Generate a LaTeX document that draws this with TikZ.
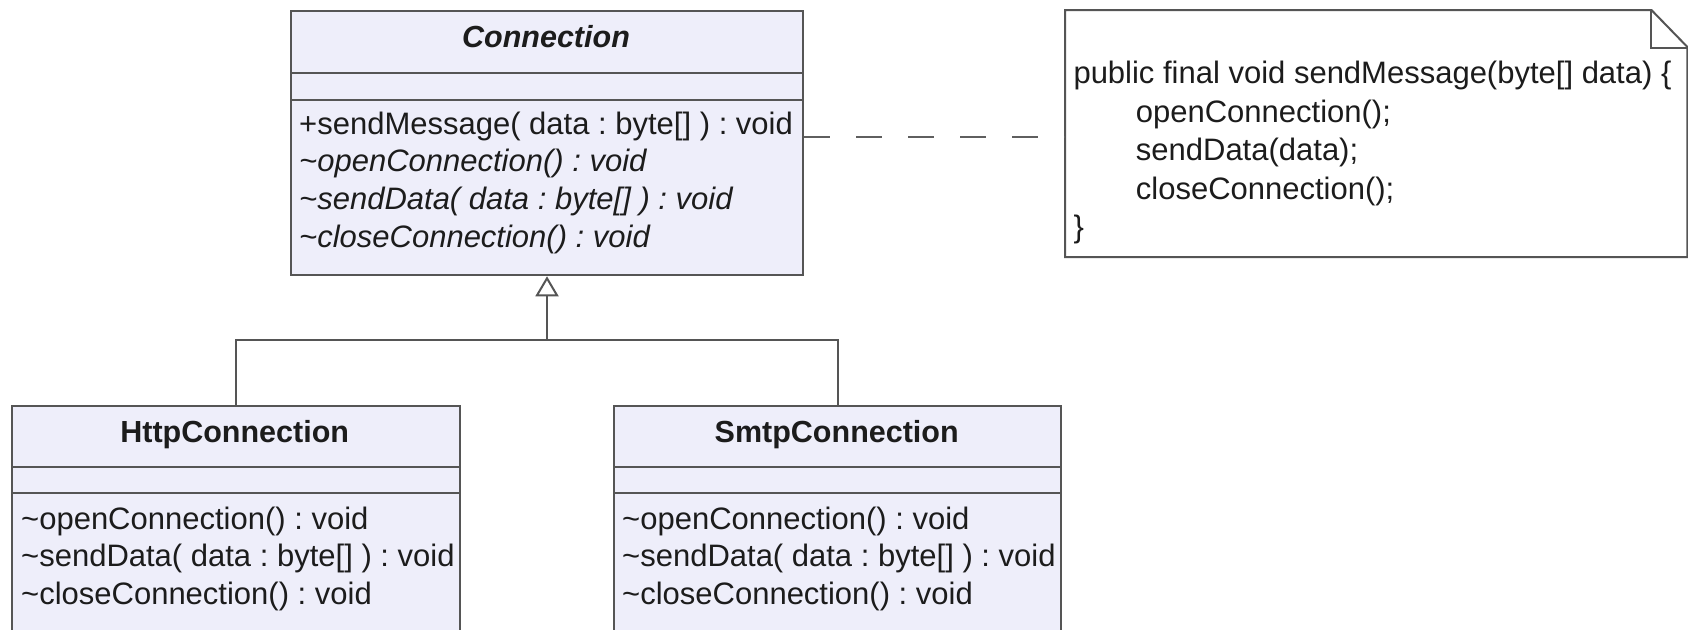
\documentclass[tikz,border=0pt]{standalone}
\usepackage{fontspec}
\setmainfont{Liberation Sans}
\usetikzlibrary{arrows.meta}
\definecolor{classfill}{RGB}{238,238,250}
\definecolor{linegray}{RGB}{85,85,85}
\definecolor{dashgray}{RGB}{95,95,95}
\definecolor{textcol}{RGB}{28,28,28}
\newcommand{\memfont}{\fontsize{31}{37.7}\selectfont}
\newcommand{\ttlfont}{\fontsize{30.5}{36}\selectfont\bfseries}
\frenchspacing
\begin{document}
\begin{tikzpicture}[x=1pt,y=-1pt,
  classbox/.style={draw=linegray, fill=classfill, line width=2pt, inner sep=0pt, anchor=north west},
  sepline/.style={draw=linegray, line width=2pt},
  member/.style={anchor=base west, inner sep=0pt, font=\memfont, text=textcol},
  imember/.style={member, font=\memfont\itshape},
  classtitle/.style={anchor=base, inner sep=0pt, font=\ttlfont, text=textcol},
  genline/.style={draw=linegray, line width=2pt},
  dashline/.style={draw=dashgray, line width=1.8pt, dash pattern=on 26pt off 26pt},
  notebox/.style={draw=linegray, line width=2pt, line join=miter}
]
\useasboundingbox (0,0) rectangle (1688,629);
\fill[white] (0,0) rectangle (1688,629);
\clip (0,0) rectangle (1688,629);

% Connection
\node[classbox, minimum width=512pt, minimum height=264.3pt] (conn) at (290,10) {};
\draw[sepline] (conn.west |- 0,72.7) -- (conn.east |- 0,72.7);
\draw[sepline] (conn.west |- 0,99.7) -- (conn.east |- 0,99.7);
\node[classtitle, font=\ttlfont\itshape] (conntitle) at (546,47.6) {Connection};
\node[member] (c1) at (299,134) {+sendMessage( data : byte[] ) : void};
\node[imember] (c2) at (299,171.5) {\textasciitilde openConnection() : void};
\node[imember] (c3) at (299,209) {\textasciitilde sendData( data : byte[] ) : void};
\node[imember] (c4) at (299,247) {\textasciitilde closeConnection() : void};

% HttpConnection
\node[classbox, minimum width=447.5pt, minimum height=270pt] (http) at (11,405) {};
\draw[sepline] (http.west |- 0,466.7) -- (http.east |- 0,466.7);
\draw[sepline] (http.west |- 0,493.3) -- (http.east |- 0,493.3);
\node[classtitle] (httptitle) at (234.7,442.7) {HttpConnection};
\node[member] (h1) at (21,529) {\textasciitilde openConnection() : void};
\node[member] (h2) at (21,566.5) {\textasciitilde sendData( data : byte[] ) : void};
\node[member] (h3) at (21,604) {\textasciitilde closeConnection() : void};

% SmtpConnection
\node[classbox, minimum width=446.7pt, minimum height=270pt] (smtp) at (613.3,405) {};
\draw[sepline] (smtp.west |- 0,466.7) -- (smtp.east |- 0,466.7);
\draw[sepline] (smtp.west |- 0,493.3) -- (smtp.east |- 0,493.3);
\node[classtitle] (smtptitle) at (836.7,442.7) {SmtpConnection};
\node[member] (s1) at (622,529) {\textasciitilde openConnection() : void};
\node[member] (s2) at (622,566.5) {\textasciitilde sendData( data : byte[] ) : void};
\node[member] (s3) at (622,604) {\textasciitilde closeConnection() : void};

% Note
\node[inner sep=0pt, minimum width=622pt, minimum height=246.7pt, anchor=north west] (note) at (1065,10) {};
\filldraw[notebox, fill=white] (note.north west) -- ([xshift=-36pt]note.north east) -- ([yshift=-37pt]note.north east) -- (note.south east) -- (note.south west) -- cycle;
\draw[notebox] ([xshift=-36pt]note.north east) -- ([xshift=-36pt,yshift=-38pt]note.north east) -- ([yshift=-38pt]note.north east);
\node[member] (n1) at (1073.3,83.5) {public final void sendMessage(byte[] data) \{};
\node[member] (n2) at (1135.7,122) {openConnection();};
\node[member] (n3) at (1135.7,160.5) {sendData(data);};
\node[member] (n4) at (1135.7,199) {closeConnection();};
\node[member] (n5) at (1073.3,237.5) {\}};

% Generalization
\coordinate (jn) at (conn.south |- 0,340);
\draw[genline] (http.north) |- (jn) -| (smtp.north);
\draw[genline, -{Triangle[open, length=20pt, width=23pt, line width=2pt]}] (jn) -- (conn.south);

% Note link
\coordinate (dy) at (0,136.7);
\draw[dashline] (conn.east |- dy) -- (note.west |- dy);
\end{tikzpicture}
\end{document}
